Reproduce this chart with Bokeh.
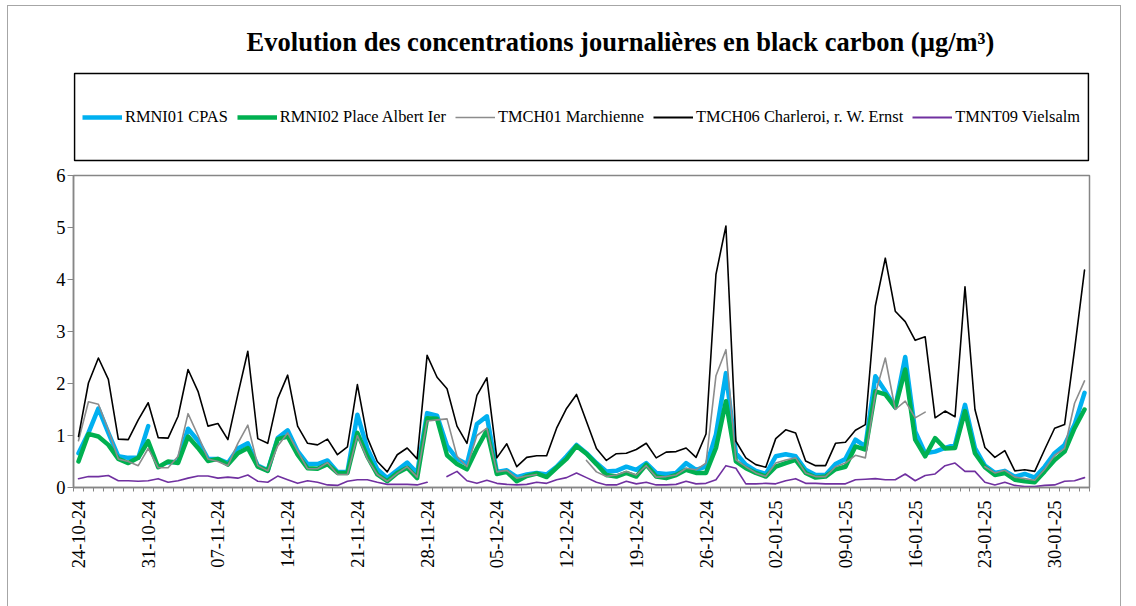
import numpy as np
import pandas as pd
from bokeh.plotting import figure
from bokeh.layouts import column
from bokeh.models import Range1d, FixedTicker, Legend, LegendItem, Label, BoxAnnotation
from bokeh.embed import file_html
from bokeh.resources import INLINE

nan = float("nan")

dates = pd.date_range("2024-10-24", "2025-02-02", freq="D")
date_labels = [d.strftime("%d-%m-%y") for d in dates]
tick_labels = ["24-10-24", "31-10-24", "07-11-24", "14-11-24", "21-11-24", "28-11-24",
               "05-12-24", "12-12-24", "19-12-24", "26-12-24", "02-01-25", "09-01-25",
               "16-01-25", "23-01-25", "30-01-25"]

rmni01 = [0.66, 1.05, 1.52, 1.05, 0.60, 0.57, 0.57, 1.18, nan, 0.48,
          0.50, 1.13, 0.90, 0.55, 0.55, 0.47, 0.75, 0.85, 0.42, 0.33,
          0.95, 1.10, 0.70, 0.45, 0.45, 0.52, 0.30, 0.30, 1.40, 0.75,
          0.35, 0.18, 0.33, 0.48, 0.28, 1.43, 1.38, 0.80, 0.55, 0.45,
          1.22, 1.37, 0.30, 0.33, 0.20, 0.25, 0.28, 0.25, 0.40, 0.60,
          0.82, 0.66, 0.47, 0.31, 0.32, 0.40, 0.34, 0.47, 0.28, 0.26,
          0.28, 0.47, 0.34, 0.40, 1.02, 2.20, 0.66, 0.44, 0.32, 0.26,
          0.60, 0.64, 0.60, 0.34, 0.24, 0.24, 0.45, 0.55, 0.92, 0.79,
          2.14, 1.85, 1.54, 2.51, 1.08, 0.66, 0.69, 0.76, 0.82, 1.59,
          0.76, 0.42, 0.28, 0.32, 0.21, 0.26, 0.19, 0.40, 0.66, 0.82,
          1.21, 1.82]

rmni02 = [0.50, 1.03, 0.98, 0.82, 0.55, 0.47, 0.57, 0.89, 0.39, 0.50,
          0.47, 0.98, 0.76, 0.51, 0.55, 0.44, 0.66, 0.76, 0.40, 0.32,
          0.93, 0.98, 0.63, 0.37, 0.36, 0.45, 0.28, 0.28, 1.05, 0.60,
          0.25, 0.12, 0.28, 0.38, 0.18, 1.33, 1.32, 0.62, 0.45, 0.35,
          0.75, 1.10, 0.26, 0.30, 0.12, 0.22, 0.27, 0.20, 0.38, 0.55,
          0.80, 0.65, 0.45, 0.24, 0.21, 0.28, 0.21, 0.44, 0.21, 0.18,
          0.24, 0.34, 0.28, 0.28, 0.76, 1.66, 0.50, 0.37, 0.28, 0.21,
          0.40, 0.47, 0.53, 0.28, 0.19, 0.21, 0.35, 0.40, 0.79, 0.73,
          1.85, 1.79, 1.54, 2.27, 0.92, 0.60, 0.95, 0.75, 0.76, 1.47,
          0.66, 0.39, 0.24, 0.28, 0.15, 0.12, 0.10, 0.31, 0.53, 0.69,
          1.14, 1.50]

tmch01 = [0.90, 1.65, 1.60, 1.10, 0.55, 0.50, 0.42, 0.75, 0.38, 0.38,
          0.60, 1.42, 1.00, 0.55, 0.50, 0.42, 0.85, 1.20, 0.42, 0.32,
          0.80, 1.05, 0.70, 0.36, 0.36, 0.48, 0.25, 0.25, 1.00, 0.55,
          0.25, 0.12, 0.27, 0.40, 0.20, 1.28, 1.30, 1.32, 0.60, 0.40,
          1.00, 1.14, 0.30, 0.33, 0.18, 0.22, 0.25, nan, nan, nan,
          nan, 0.52, 0.30, 0.21, 0.24, 0.31, 0.24, 0.42, 0.20, 0.21,
          0.24, 0.37, 0.34, 0.47, 2.15, 2.65, 0.53, 0.40, 0.28, 0.21,
          0.47, 0.53, 0.57, 0.28, 0.21, 0.21, 0.40, 0.47, 0.62, 0.57,
          1.80, 2.49, 1.50, 1.66, 1.34, 1.45, nan, nan, nan, nan,
          nan, 0.40, 0.28, 0.33, 0.20, 0.17, 0.14, 0.35, 0.62, 0.75,
          1.62, 2.05]

tmch06 = [0.98, 2.01, 2.49, 2.08, 0.93, 0.92, 1.30, 1.63, 0.96, 0.95,
          1.37, 2.27, 1.85, 1.18, 1.23, 0.92, 1.79, 2.62, 0.94, 0.85,
          1.71, 2.16, 1.18, 0.85, 0.82, 0.93, 0.63, 0.78, 1.98, 0.96,
          0.50, 0.30, 0.63, 0.76, 0.55, 2.54, 2.12, 1.90, 1.18, 0.85,
          1.77, 2.11, 0.57, 0.84, 0.40, 0.58, 0.61, 0.61, 1.14, 1.52,
          1.79, 1.27, 0.75, 0.52, 0.65, 0.66, 0.73, 0.85, 0.57, 0.68,
          0.69, 0.76, 0.58, 1.03, 4.10, 5.03, 0.89, 0.57, 0.44, 0.39,
          0.94, 1.11, 1.05, 0.51, 0.42, 0.42, 0.85, 0.87, 1.10, 1.21,
          3.49, 4.41, 3.39, 3.19, 2.83, 2.90, 1.34, 1.47, 1.36, 3.86,
          1.50, 0.77, 0.58, 0.71, 0.32, 0.34, 0.31, 0.73, 1.14, 1.21,
          2.65, 4.18]

tmnt09 = [0.17, 0.21, 0.21, 0.23, 0.13, 0.13, 0.12, 0.13, 0.17, 0.10,
          0.13, 0.18, 0.22, 0.22, 0.18, 0.20, 0.18, 0.24, 0.12, 0.10,
          0.22, 0.15, 0.08, 0.13, 0.10, 0.05, 0.04, 0.12, 0.15, 0.15,
          0.10, 0.06, 0.06, 0.06, 0.05, 0.10, nan, 0.21, 0.31, 0.13,
          0.08, 0.14, 0.08, 0.06, 0.05, 0.06, 0.10, 0.08, 0.15, 0.19,
          0.28, 0.19, 0.10, 0.05, 0.05, 0.12, 0.07, 0.10, 0.05, 0.05,
          0.06, 0.12, 0.07, 0.08, 0.15, 0.42, 0.37, 0.07, 0.07, 0.08,
          0.07, 0.13, 0.17, 0.08, 0.08, 0.07, 0.07, 0.07, 0.15, 0.16,
          0.17, 0.15, 0.15, 0.26, 0.13, 0.23, 0.26, 0.42, 0.47, 0.31,
          0.31, 0.10, 0.05, 0.10, 0.04, 0.02, 0.02, 0.04, 0.05, 0.12,
          0.13, 0.19]

series_names = ["RMNI01 CPAS", "RMNI02 Place Albert Ier", "TMCH01 Marchienne",
                "TMCH06 Charleroi, r. W. Ernst", "TMNT09 Vielsalm"]
series_values = [rmni01, rmni02, tmch01, tmch06, tmnt09]
series_colors = ["#00B0F0", "#00B050", "#8C8C8C", "#000000", "#7030A0"]
series_widths = [4.5, 4.5, 1.6, 1.6, 1.6]
legend_widths = [4.5, 4.5, 1.6, 2.0, 2.0]

n = len(date_labels)
x = np.arange(n)

FONT = "Liberation Serif"
AXIS_GRAY = "#868686"
FIG_W = 1112
BL, BR = 65, 31            # left / right borders (frames aligned in the column)
FRAME_W = FIG_W - BL - BR  # 1016
TOP_H = 157

# ---------- top part: title + legend ----------
top = figure(width=FIG_W, height=TOP_H, output_backend="svg", toolbar_location=None,
             x_range=Range1d(0, FRAME_W), y_range=Range1d(0, TOP_H),
             x_axis_type=None, y_axis_type=None,
             min_border_left=BL, min_border_right=BR, min_border_top=0, min_border_bottom=0)
top.outline_line_color = None
top.xgrid.visible = False
top.ygrid.visible = False

legend_box = BoxAnnotation(left=1, right=FRAME_W - 1, bottom=3, top=90,
                           fill_color="white", fill_alpha=1.0,
                           line_color="#000000", line_alpha=1.0, line_width=1.6)
top.add_layout(legend_box)

dummy = []
for col, w in zip(series_colors, legend_widths):
    dummy.append(top.line([-1000, -999], [-1000, -1000], line_color=col, line_width=w))

items = [LegendItem(label=nm, renderers=[r]) for nm, r in zip(series_names, dummy)]
legend = Legend(items=items, location=(9, 36.5), orientation="horizontal",
                border_line_color=None, background_fill_alpha=0.0,
                padding=0, spacing=9, label_standoff=3,
                glyph_width=40, glyph_height=20, label_height=20,
                label_text_font=FONT, label_text_font_size="16.4px",
                label_text_color="black", margin=0)
top.add_layout(legend, "center")

title = Label(x=547, y=122,
              text="Evolution des concentrations journalières en black carbon (µg/m³)",
              text_font=FONT, text_font_style="bold", text_font_size="26.5px",
              text_align="center", text_baseline="alphabetic", text_color="black")
top.add_layout(title)

# ---------- bottom part: the chart ----------
p = figure(width=FIG_W, height=443, output_backend="svg", toolbar_location=None,
           x_range=Range1d(-0.5, n - 0.5), y_range=Range1d(0, 6),
           min_border_left=BL, min_border_right=BR, min_border_top=12,
           min_border_bottom=119)
p.outline_line_color = AXIS_GRAY
p.outline_line_width = 1.5
p.xgrid.visible = False
p.ygrid.visible = False

for vals, col, w in zip(series_values, series_colors, series_widths):
    p.line(x, np.array(vals, dtype=float), line_color=col, line_width=w,
           line_join="round", line_cap="round")

label_pos = [date_labels.index(t) for t in tick_labels]
p.xaxis.ticker = FixedTicker(ticks=label_pos,
                             minor_ticks=[i - 0.5 for i in range(n + 1)])
p.xaxis.major_label_overrides = {i: date_labels[i] for i in label_pos}
p.xaxis.major_label_orientation = np.pi / 2
p.xaxis.major_tick_out = 0
p.xaxis.major_tick_in = 0
p.xaxis.minor_tick_out = 4
p.xaxis.minor_tick_in = 0
p.xaxis.minor_tick_line_color = AXIS_GRAY
p.xaxis.axis_line_color = AXIS_GRAY
p.xaxis.axis_line_width = 1.5
p.xaxis.major_label_standoff = 9
p.xaxis.major_label_text_font = FONT
p.xaxis.major_label_text_font_size = "18.5px"
p.xaxis.major_label_text_color = "black"

p.yaxis.ticker = FixedTicker(ticks=[0, 1, 2, 3, 4, 5, 6])
p.yaxis.major_tick_out = 6
p.yaxis.major_tick_in = 0
p.yaxis.minor_tick_out = 0
p.yaxis.minor_tick_in = 0
p.yaxis.major_tick_line_color = AXIS_GRAY
p.yaxis.axis_line_color = AXIS_GRAY
p.yaxis.axis_line_width = 1.5
p.yaxis.major_label_standoff = 2
p.yaxis.major_label_text_font = FONT
p.yaxis.major_label_text_font_size = "18.5px"
p.yaxis.major_label_text_color = "black"

BORDER = "1px solid #A6A6A6"
layout = column(top, p, spacing=0, margin=(5, 0, 0, 7),
                styles={"border-top": BORDER, "border-left": BORDER,
                        "border-right": BORDER})

open("out.html", "w").write(file_html(layout, INLINE))
